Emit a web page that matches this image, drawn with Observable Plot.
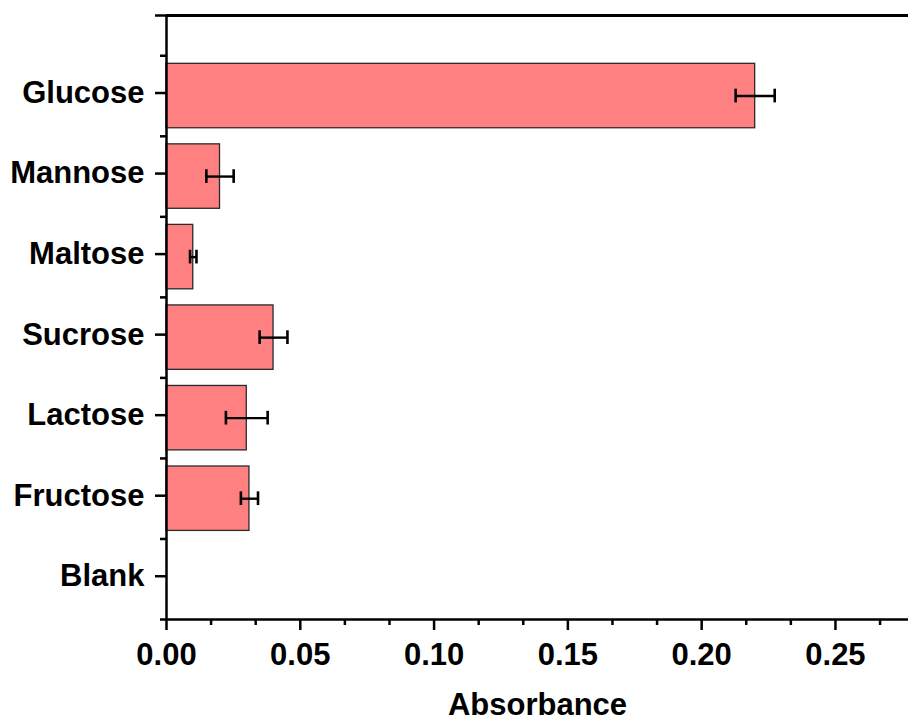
<!DOCTYPE html>
<html>
<head>
<meta charset="utf-8">
<script src="https://cdn.jsdelivr.net/npm/d3@7"></script>
<script src="https://cdn.jsdelivr.net/npm/@observablehq/plot@0.6"></script>
<style>
  html, body { margin: 0; padding: 0; background: #fff; }
  #chart svg { display: block; }
</style>
</head>
<body>
<div id="chart"></div>
<script>
// Data (bottom to top)
const categories = ["Blank", "Fructose", "Lactose", "Sucrose", "Maltose", "Mannose", "Glucose"];
const absorbance = [0, 0.031, 0.030, 0.040, 0.010, 0.020, 0.220];
const errors     = [0, 0.0032, 0.0078, 0.0052, 0.0012, 0.0051, 0.0073];
const xMajorTicks = [0, 0.05, 0.10, 0.15, 0.20, 0.25];
const axisTitle = "Absorbance";

const data = categories.map((c, i) => ({
  name: c, pos: i + 1, value: absorbance[i], err: errors[i]
}));
const errData = data.filter(d => d.err > 0);

const xMinorTicks = d3.range(0, 18).map(k => k * 0.05 / 3).filter(v => !xMajorTicks.some(t => Math.abs(t - v) < 1e-9));
const yMajor = d3.range(1, categories.length + 1);
const yMinor = d3.range(0.5, categories.length + 1, 1);

const font = "'Liberation Sans', Arial, Helvetica, sans-serif";

const chart = Plot.plot({
  width: 908,
  height: 722,
  marginLeft: 166,
  marginRight: 0,
  marginTop: 15,
  marginBottom: 103,
  style: { fontFamily: font, fontWeight: "bold", color: "#000", background: "#fff" },
  x: { domain: [0, 0.2773] },
  y: { domain: [0.5, 8] },
  marks: [
    Plot.rectX(data, {
      x1: 0, x2: "value",
      y1: d => d.pos - 0.4, y2: d => d.pos + 0.4,
      fill: "#FF8080", stroke: "#2a2a2a", strokeWidth: 1.3
    }),
    // error bars
    Plot.link(errData, {
      x1: d => d.value - d.err, x2: d => d.value + d.err,
      y1: "pos", y2: "pos", stroke: "#000", strokeWidth: 2.4
    }),
    Plot.ruleX(errData, {
      x: d => d.value - d.err, y1: d => d.pos - 0.085, y2: d => d.pos + 0.085,
      stroke: "#000", strokeWidth: 2.6
    }),
    Plot.ruleX(errData, {
      x: d => d.value + d.err, y1: d => d.pos - 0.085, y2: d => d.pos + 0.085,
      stroke: "#000", strokeWidth: 2.6
    }),
    // x axis: major ticks with labels
    Plot.axisX({
      ticks: xMajorTicks, tickFormat: d3.format(".2f"),
      tickSize: 11, tickPadding: 12, strokeWidth: 2.5,
      fontSize: 31, fontWeight: "bold", fill: "#000", label: null
    }),
    // x minor ticks
    Plot.axisX({
      ticks: xMinorTicks, tickFormat: () => "", tickSize: 6, strokeWidth: 2.5, label: null
    }),
    // y axis: category labels
    Plot.axisY({
      ticks: yMajor, tickFormat: i => categories[i - 1],
      tickSize: 11, tickPadding: 11, strokeWidth: 2.5, dy: -3,
      fontSize: 31, fontWeight: "bold", fill: "#000", label: null
    }),
    Plot.axisY({ ticks: [8], tickFormat: () => "", tickSize: 11, strokeWidth: 2.5, label: null }),
    Plot.axisY({ ticks: yMinor, tickFormat: () => "", tickSize: 6, strokeWidth: 2.5, label: null }),
    // spines
    Plot.ruleX([0], { stroke: "#000", strokeWidth: 2.5 }),
    Plot.ruleY([0.5], { stroke: "#000", strokeWidth: 2.5 }),
    Plot.ruleY([8], { stroke: "#000", strokeWidth: 3 }),
    // axis title
    Plot.text([axisTitle], {
      frameAnchor: "bottom", dy: 95, lineAnchor: "bottom",
      fontSize: 31, fontWeight: "bold", fill: "#000"
    })
  ]
});
document.getElementById("chart").append(chart);
</script>
</body>
</html>
